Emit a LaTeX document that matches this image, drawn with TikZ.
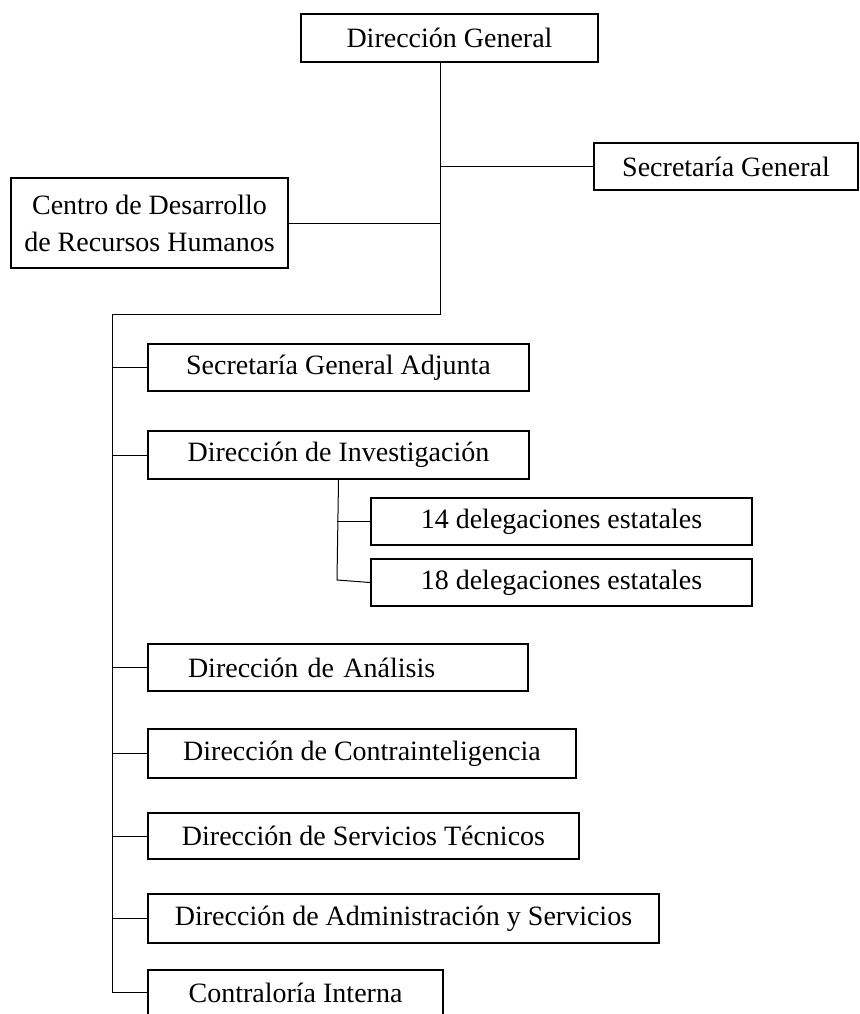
\documentclass[tikz,border=0pt]{standalone}
\usepackage{fontspec}
\setmainfont{Liberation Serif}
\usetikzlibrary{positioning,calc}

\begin{document}
\begin{tikzpicture}[x=1pt, y=-1pt, font=\fontsize{28}{37}\selectfont,
  unit/.style={draw=black, line width=2pt, align=center, inner sep=0pt, anchor=north west, fill=white},
  link/.style={draw=black, line width=1pt}]
\useasboundingbox (0,0) rectangle (859,1014);
% top level
\node[unit, minimum width=297pt, minimum height=48pt] (dirgen) at (300,13) {Dirección General};
\node[unit, minimum width=264pt, minimum height=47pt] (secgen) at (593,142) {Secretaría General};
\node[unit, minimum width=277pt, minimum height=90pt] (cdrh) at (10,177) {Centro de Desarrollo\\de Recursos Humanos};
% branches
\node[unit, minimum width=381pt, minimum height=47pt] (sga) at (147,343) {Secretaría General Adjunta};
\node[unit, minimum width=381pt, minimum height=48pt] (dinv) at (147,430) {Dirección de Investigación};
\node[unit, minimum width=381pt, minimum height=47pt] (del14) at (370,497) {14 delegaciones estatales};
\node[unit, minimum width=381pt, minimum height=47pt] (del18) at (370,558) {18 delegaciones estatales};
\node[unit, minimum width=380pt, minimum height=47pt, align=left, text width=300pt] (dana) at (147,643) {Dirección de Análisis};
\node[unit, minimum width=428pt, minimum height=49pt] (dci) at (147,728) {Dirección de Contrainteligencia};
\node[unit, minimum width=431pt, minimum height=46pt] (dst) at (147,812) {Dirección de Servicios Técnicos};
\node[unit, minimum width=511pt, minimum height=49pt] (das) at (147,893) {Dirección de Administración y Servicios};
\node[unit, minimum width=295pt, minimum height=45pt] (cint) at (147,969) {Contraloría Interna};
% trunk
\coordinate (mid) at (440,314);
\coordinate (left) at (112,314);
\coordinate (sub) at (337,580);
\draw[link] (dirgen.south -| mid) -- (mid) -- (left) -- (left |- cint.west) -- (cint.west);
\draw[link] (secgen.west -| mid) -- (secgen.west); \draw[link] (cdrh.east) -- (cdrh.east -| mid);
\draw[link] (left |- sga.west) -- (sga.west); \draw[link] (left |- dinv.west) -- (dinv.west);
\draw[link] (left |- dana.west) -- (dana.west); \draw[link] (left |- dci.west) -- (dci.west);
\draw[link] (left |- dst.west) -- (dst.west); \draw[link] (left |- das.west) -- (das.west);
\draw[link] (dinv.south) -- (sub) -- (del18.west); \draw[link] (sub |- del14.west) -- (del14.west);
\end{tikzpicture}
\end{document}
